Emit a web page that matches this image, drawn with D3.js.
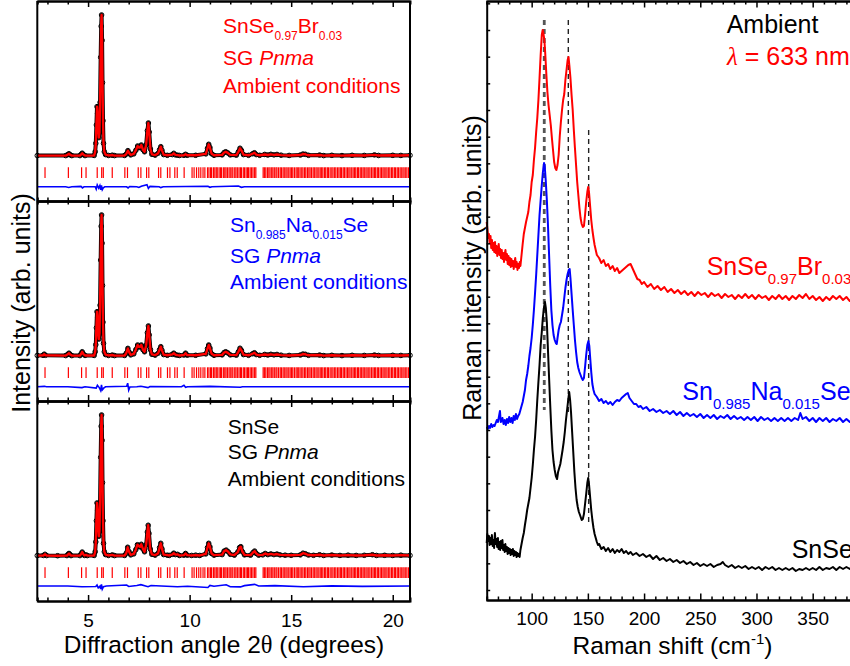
<!DOCTYPE html>
<html>
<head>
<meta charset="utf-8">
<script src="https://cdn.jsdelivr.net/npm/d3@7"></script>
<style>
  body { margin: 0; background: #fff; }
  text { font-family: "Liberation Sans", Arial, sans-serif; }
</style>
</head>
<body>
<svg id="fig" width="850" height="666"></svg>
<script>
// ---------------- XRD data (2theta in degrees, intensity in arb. units, main peak = 100) ----------------
const xrdBr = [[2.5,0.3],[3.9,0.3],[4.0,1],[4.06,1.6],[4.12,0.8],[4.2,0.3],[4.6,0.3],[4.66,1.2],[4.71,2],[4.77,1],[4.85,0.3],[5.3,0.4],[5.35,3],[5.38,9],[5.41,22],[5.44,35],[5.47,30],[5.5,19],[5.53,13],[5.56,17],[5.59,38],[5.62,70],[5.645,92],[5.665,100],[5.69,82],[5.71,52],[5.735,25],[5.76,9],[5.8,3],[5.86,1],[6.0,0.4],[6.19,0.6],[6.3,0.3],[6.8,0.4],[6.88,1.4],[6.96,3.8],[7.03,2],[7.1,0.8],[7.25,1.5],[7.35,4],[7.44,7.1],[7.5,6],[7.56,6],[7.62,7.8],[7.7,4.5],[7.78,3],[7.86,8],[7.92,18],[7.97,23.4],[8.01,17],[8.07,5],[8.14,1.2],[8.3,0.6],[8.45,2],[8.52,4.5],[8.58,6.6],[8.64,4],[8.72,1],[8.9,0.5],[9.15,1],[9.22,1.9],[9.3,0.8],[9.4,0.6],[9.5,0.4],[9.72,0.5],[9.8,1.2],[9.88,0.5],[10.3,0.5],[10.8,1.5],[10.88,5.5],[10.94,8.3],[11.0,6],[11.08,1.6],[11.2,0.5],[11.6,0.8],[11.7,2.5],[11.78,3],[11.88,2.2],[12.0,0.8],[12.3,0.6],[12.4,3],[12.48,5.5],[12.55,4],[12.65,1],[12.9,0.5],[13.1,1.6],[13.19,2.3],[13.28,1],[13.45,0.5],[13.7,1.1],[13.85,0.7],[14.0,1.2],[14.15,0.8],[14.3,1.1],[14.5,0.6],[14.9,0.4],[15.45,0.7],[15.58,1.4],[15.7,1.2],[15.85,0.5],[16.4,0.7],[16.6,0.3],[17.0,0.5],[17.5,0.3],[18.0,0.5],[18.6,0.4],[19.1,0.8],[19.3,0.4],[20.0,0.5],[20.4,0.4],[20.85,0.5]];

const xrdNa = [[2.5,0.4],[2.78,0.5],[2.84,1.3],[2.9,0.5],[3.9,0.3],[4.0,1.2],[4.06,2],[4.12,1],[4.2,0.3],[4.6,0.3],[4.66,1.6],[4.71,3],[4.77,1.4],[4.85,0.4],[5.3,0.4],[5.35,3],[5.38,8],[5.41,20],[5.44,31.4],[5.47,27],[5.5,17],[5.53,12],[5.56,16],[5.59,36],[5.62,68],[5.645,92],[5.665,100],[5.69,80],[5.71,50],[5.735,24],[5.76,9],[5.8,3],[5.86,1],[6.0,0.4],[6.19,0.7],[6.3,0.3],[6.8,0.4],[6.88,2],[6.96,5.4],[7.03,2.6],[7.1,0.8],[7.25,1.5],[7.35,4.5],[7.44,7.8],[7.5,6.5],[7.56,6.5],[7.62,7.8],[7.7,4.5],[7.78,3],[7.86,7.5],[7.92,16.5],[7.97,21.3],[8.01,15],[8.07,4.5],[8.14,1.2],[8.3,0.6],[8.45,2],[8.52,4.5],[8.58,6.6],[8.64,4],[8.72,1],[8.9,0.5],[9.15,1.2],[9.22,2],[9.3,0.9],[9.4,0.6],[9.5,0.4],[9.72,0.7],[9.8,2],[9.88,0.6],[10.3,0.5],[10.8,1.5],[10.88,5.2],[10.94,7.8],[11.0,5.6],[11.08,1.6],[11.2,0.5],[11.6,0.8],[11.7,2.5],[11.78,3],[11.88,2.2],[12.0,0.8],[12.3,0.6],[12.4,3],[12.48,5.5],[12.55,4],[12.65,1],[12.9,0.5],[13.1,1.6],[13.19,2.3],[13.28,1],[13.45,0.5],[13.7,1.1],[13.85,0.7],[14.0,1.2],[14.15,0.8],[14.3,1.1],[14.5,0.6],[14.9,0.4],[15.45,0.7],[15.58,1.4],[15.7,1.2],[15.85,0.5],[16.4,0.7],[16.6,0.3],[17.0,0.5],[17.5,0.3],[18.0,0.5],[18.6,0.4],[19.1,0.7],[19.3,0.4],[20.0,0.5],[20.4,0.4],[20.85,0.5]];

const xrdPure = [[2.5,0.3],[2.8,0.4],[2.88,1.2],[2.96,0.3],[3.5,0.2],[3.96,0.3],[4.02,1.2],[4.06,1.8],[4.1,1.2],[4.16,0.3],[4.6,0.3],[4.66,1.5],[4.71,2.8],[4.76,1.5],[4.82,0.4],[4.9,0.8],[4.96,0.3],[5.3,0.4],[5.35,3],[5.38,10],[5.41,25],[5.44,37.6],[5.47,32],[5.5,20],[5.53,14],[5.56,18],[5.59,38],[5.62,70],[5.645,92],[5.665,100],[5.69,82],[5.71,52],[5.735,25],[5.76,9],[5.8,3],[5.86,1],[6.0,0.4],[6.19,0.8],[6.3,0.3],[6.8,0.4],[6.88,2],[6.95,6.2],[7.02,3],[7.1,0.8],[7.25,1.5],[7.35,4.5],[7.43,8],[7.5,7],[7.56,6.5],[7.62,8.3],[7.7,5],[7.78,3],[7.86,8],[7.92,17],[7.96,21.8],[8.0,16],[8.06,5],[8.14,1.2],[8.3,0.6],[8.45,2],[8.52,6],[8.58,9],[8.64,5],[8.72,1],[8.9,0.6],[9.0,0.4],[9.16,1.2],[9.22,2],[9.3,1],[9.4,1.2],[9.5,0.4],[9.72,0.6],[9.8,1.8],[9.88,0.6],[10.1,0.4],[10.3,0.6],[10.5,0.4],[10.8,1.5],[10.88,6],[10.94,9],[11.0,6.5],[11.08,1.8],[11.2,0.6],[11.6,1],[11.7,3.5],[11.8,4.2],[11.9,3],[12.0,1.2],[12.2,0.6],[12.38,3],[12.46,6],[12.52,6.6],[12.6,3],[12.7,0.8],[13.0,0.6],[13.12,2.5],[13.2,3.5],[13.28,1.8],[13.4,0.6],[13.6,0.8],[13.72,1.8],[13.85,1],[14.0,1.5],[14.15,1],[14.3,1.4],[14.45,0.8],[14.7,0.6],[15.0,0.5],[15.45,0.8],[15.58,2],[15.7,1.6],[15.85,0.7],[16.1,0.5],[16.4,0.9],[16.6,0.4],[17.0,0.7],[17.4,0.4],[17.8,0.6],[18.2,0.4],[18.6,0.5],[19.0,0.9],[19.2,0.4],[19.6,0.5],[20.0,0.4],[20.4,0.6],[20.85,0.4]];

// difference curves (obs - calc), shifted below the patterns
const diffBr = [[2.5,-21.8],[3.9,-21.8],[4.05,-22.3],[4.2,-21.8],[4.65,-21.5],[4.72,-22.6],[4.8,-21.8],[5.35,-21.8],[5.4,-23.5],[5.45,-20.5],[5.52,-22.8],[5.58,-21],[5.62,-24],[5.66,-20.8],[5.7,-23.8],[5.75,-22.5],[5.82,-21.8],[6.9,-21.8],[6.97,-22.6],[7.05,-21.6],[7.4,-21.8],[7.5,-22.3],[7.62,-21.4],[7.9,-20.4],[7.97,-23],[8.05,-21.5],[8.5,-21.8],[8.58,-22.4],[8.7,-21.8],[10.9,-21.4],[11.0,-22.2],[11.1,-21.8],[12.4,-21.3],[12.55,-22.2],[12.7,-21.8],[20.85,-21.8]];
const diffNa = [[2.5,-21.8],[2.85,-21.5],[2.95,-21.8],[4.0,-21.8],[4.7,-22.4],[4.85,-21.8],[5.4,-22.8],[5.46,-20.8],[5.55,-22.4],[5.62,-24.5],[5.66,-20.5],[5.7,-24],[5.78,-22.6],[5.86,-21.8],[6.9,-21.5],[6.95,-19.3],[7.0,-24.2],[7.06,-22],[7.4,-21.8],[7.6,-21.4],[7.95,-22.4],[8.05,-21.6],[9.6,-21.8],[9.72,-20.8],[9.8,-22.2],[9.9,-21.8],[11.0,-21.5],[12.5,-22.2],[12.6,-21.8],[20.85,-21.8]];
const diffPure = [[2.5,-21.3],[4.0,-21.3],[4.7,-21.8],[5.38,-21.6],[5.44,-20.6],[5.5,-22.6],[5.58,-21.4],[5.62,-23.4],[5.66,-20.2],[5.7,-23.5],[5.76,-21.8],[5.9,-21.3],[6.9,-20.6],[7.0,-21.6],[7.4,-20.9],[7.6,-20.3],[7.95,-21.8],[8.1,-20.9],[8.6,-21.3],[9.4,-21.8],[9.9,-21.4],[10.9,-22.3],[11.0,-20.8],[11.2,-21.4],[11.8,-20.4],[12.0,-21.8],[12.5,-21.9],[12.7,-21],[13.2,-20.1],[13.4,-21.3],[14.2,-21],[15.6,-21.8],[17.0,-21.2],[18.5,-21.5],[20.85,-21.3]];

// Bragg reflection positions (Pnma), 2theta
const braggPos = [2.88,4.03,4.68,4.90,5.45,5.67,5.75,6.19,6.81,6.94,7.47,7.60,7.88,7.99,8.47,8.58,8.91,9.03,9.27,9.39,9.73,10.12,10.22,10.34,10.45,10.55,10.66,10.75,
  10.88,10.95,11.03,11.08,11.17,11.24,11.31,11.36,11.45,11.52,11.57,11.66,11.73,11.79,11.86,11.94,12.0,12.08,12.13,12.22,12.28,12.35,12.43,12.5,12.55,12.64,12.7,12.78,12.85,12.9,12.98,13.05,13.12,13.2,13.26,
  13.62,13.68,13.75,13.83,13.9,13.96,14.04,14.1,14.17,14.25,14.3,14.38,14.46,14.52,14.6,14.66,14.74,14.8,14.88,14.95,15.02,15.08,15.16,15.24,15.3,15.37,15.44,15.52,15.58,15.66,15.72,15.8,15.87,15.93,16.0,16.08,16.14,16.22,16.28,16.36,16.43,16.5,16.56,16.64,16.7,16.78,16.84,16.92,17.0,17.06,17.14,17.2,17.28,17.35,17.42,17.48,17.56,17.62,17.7,17.77,17.84,17.9,17.98,18.05,18.12,18.18,18.26,18.32,18.4,18.47,18.54,18.6,18.68,18.74,18.82,18.88,18.96,19.03,19.1,19.16,19.24,19.3,19.38,19.45,19.52,19.58,19.66,19.72,19.8,19.86,19.94,20.0,20.08,20.14,20.22,20.28,20.36,20.42,20.5,20.56,20.64,20.7,20.78];

const xrdMajorTicks = [5, 10, 15, 20];
const xrdMinorTicks = [3, 4, 6, 7, 8, 9, 11, 12, 13, 14, 16, 17, 18, 19];

// ---------------- Raman data (shift in cm-1, intensity in arb. units, curves offset) ----------------
const ramanBr = [[60,378],[60.7,370],[61.4,362],[62,366],[62.7,357],[63.4,364],[64,352],[64.7,360],[65.4,350],[66,357],[66.7,348],[67.4,358],[68,347],[68.7,354],[69.4,344],[70,350],[70.7,356],[71.4,345],[72,351],[72.7,342],[73.4,350],[74,341],[74.7,347],[75.4,338],[76,345],[76.7,350],[77.4,340],[78,346],[78.7,336],[79.4,344],[80,335],[80.7,342],[81.4,333],[82,341],[82.7,334],[83.4,339],[84,331],[84.7,337],[85.4,342],[86,333],[86.7,338],[87.4,330],[88,336],[88.7,332],[89.4,338],[90,334],[91,345],[92,356],[93,366],[94,372],[95,378],[96,383],[97,388],[98,398],[99,405],[100,418],[101,425],[102,440],[103,452],[104,468],[105,482],[106,500],[107,522],[108,545],[109,565],[109.8,570],[110.5,566],[111.3,560],[112,548],[113,527],[114,508],[115,495],[116,485],[117,475],[118,462],[119,450],[120,438],[121,432],[122,430],[123,435],[124,445],[125,464],[126,478],[127,490],[128,500],[129,506],[130,520],[131,530],[132,540],[132.8,543],[133.5,535],[134.5,522],[135.5,505],[136.5,490],[137.5,470],[138.5,452],[139.5,435],[140.5,418],[141.5,405],[142.5,392],[143.5,382],[144.5,376],[145.5,373],[146.5,374],[147.5,385],[148.5,398],[149.5,408],[150.3,413],[151,408],[152,394],[153,380],[154,370],[155,362],[156,355],[157,350],[158,345],[160,342],[162,337],[164,340],[166,334],[168,336],[170,331],[172,334],[174,329],[176,332],[178,327],[180,329],[182,331],[184,333],[186,335],[188,336],[190,331],[192,326],[194,321],[196,320],[198,316],[200,318],[203,313],[206,316],[209,311],[212,314],[215,310],[218,313],[221,308],[224,311],[227,307],[230,310],[233,306],[236,309],[239,305],[242,308],[245,304],[248,308],[251,305],[254,307],[257,303],[260,307],[263,304],[266,306],[269,302],[272,306],[275,303],[278,305],[281,301],[284,305],[287,302],[290,306],[293,302],[296,305],[299,301],[302,305],[305,302],[308,304],[311,300],[314,304],[317,301],[320,305],[323,301],[326,304],[329,300],[332,304],[335,301],[338,305],[341,302],[344,306],[347,301],[350,304],[353,300],[356,303],[359,299],[362,303],[365,300],[368,304],[371,301],[374,304],[377,300],[380,303],[383,299],[386,303],[389,300],[392,303],[395,299],[398,302],[400,300]];

const ramanNa = [[60,173],[61,171],[62,174],[63,172],[64,176],[65,173],[66,175],[67,174],[68,177],[69,180],[70,178],[71,184],[71.8,189],[72.5,178],[74,182],[75,176],[76,180],[77,175],[78,181],[79,177],[80,183],[81,178],[82,182],[83,177],[84,184],[85,180],[86,186],[87,181],[88,184],[89,186],[90,190],[91,194],[92,198],[93,204],[94,210],[95,220],[96,226],[97,234],[98,244],[99,252],[100,262],[101,275],[102,290],[103,307],[104,325],[105,345],[106,365],[107,385],[108,400],[109,415],[110,428],[111,437],[111.6,434],[112.5,420],[113.5,400],[114.5,375],[115.5,345],[116.5,315],[117.5,290],[118.5,275],[119.5,265],[120.5,260],[121.5,257],[122.3,256],[123,262],[124,270],[125,275],[126,278],[127,285],[128,292],[129,302],[130,312],[131,320],[132,326],[133,330],[133.8,331],[134.5,322],[135.5,306],[136.5,290],[137.5,275],[138.5,260],[139.5,248],[140.5,238],[141.5,232],[142.5,228],[143.5,225],[144.5,222],[145.5,220],[146.5,222],[147.5,233],[148.5,245],[149.5,255],[150.5,259],[151.3,254],[152,243],[153,228],[154,216],[155,210],[156,206],[158,203],[160,199],[162,201],[164,197],[166,199],[168,196],[170,198],[172,195],[174,198],[176,200],[178,199],[180,202],[182,204],[184,206],[185.5,207],[187,202],[189,199],[191,196],[193,196],[195,193],[197,194],[199,191],[202,193],[205,189],[208,191],[211,188],[214,190],[217,187],[220,189],[223,186],[226,189],[229,185],[232,188],[235,184],[238,187],[241,184],[244,186],[247,183],[250,186],[253,182],[256,185],[259,182],[262,185],[265,181],[268,184],[271,182],[274,185],[277,181],[280,184],[283,181],[286,183],[289,180],[292,183],[295,180],[298,183],[301,179],[304,183],[307,180],[310,182],[313,179],[316,182],[319,179],[322,182],[325,179],[328,182],[331,179],[334,182],[337,180],[339,187],[341,181],[344,183],[347,179],[350,182],[353,178],[356,182],[359,179],[362,182],[365,178],[368,181],[371,179],[374,182],[377,178],[380,181],[383,178],[386,181],[389,177],[392,181],[395,178],[398,181],[400,179]];

const ramanPure = [[60,57],[60.6,66],[61.2,59],[62,64],[62.6,55],[63.3,62],[64,56],[64.6,65],[65.3,54],[66,60],[66.6,52],[67.3,67],[68,56],[68.6,61],[69.3,53],[70,62],[70.6,51],[71.3,58],[72,50],[72.6,59],[73.3,52],[74,60],[74.6,50],[75.3,55],[76,48],[76.6,56],[77.3,49],[78,53],[78.6,46],[79.3,52],[80,47],[80.6,51],[81.3,45],[82,50],[82.6,46],[83.3,51],[84,44],[84.6,49],[85.3,45],[86,48],[86.6,43],[87.3,47],[88,44],[88.6,46],[89.3,43],[90,50],[91,56],[92,62],[93,67],[94,75],[95,82],[96,90],[97,96],[98,102],[99,112],[100,122],[101,135],[102,150],[103,163],[104,180],[105,200],[106,218],[107,235],[108,255],[109,268],[110,283],[111,293],[111.8,298],[112.6,292],[113.5,278],[114.5,250],[115.5,222],[116.5,195],[117.5,170],[118.5,150],[119.5,138],[120.5,130],[121.5,124],[122.6,121],[123.5,128],[124.5,132],[125.5,136],[126.5,143],[127.5,150],[128.5,158],[129.5,168],[130.5,180],[131.5,190],[132.5,200],[133.4,208],[134.2,200],[135,188],[136,168],[137,148],[138,128],[139,112],[140,100],[141,93],[142,88],[143,85],[144.5,80],[145.5,81],[146.5,86],[147.5,96],[148.5,106],[149.5,117],[150.3,122],[151,116],[152,103],[153,90],[154,80],[155,72],[156,66],[157,62],[158,58],[159,55],[160,56],[162,51],[164,53],[166,49],[168,52],[170,48],[172,51],[174,47],[176,50],[178,48],[180,51],[182,47],[184,49],[186,46],[188,48],[190,45],[193,47],[196,44],[199,46],[202,43],[205,45],[208,41],[211,44],[214,40],[217,42],[220,39],[223,41],[226,38],[229,40],[232,37],[235,39],[238,36],[241,38],[244,35],[247,37],[250,34],[253,36],[256,34],[259,36],[262,33],[265,35],[268,36],[270,38],[272,35],[275,33],[278,35],[281,32],[284,34],[287,32],[290,34],[293,31],[296,33],[299,31],[302,33],[305,30],[308,33],[311,31],[314,33],[317,30],[320,32],[323,30],[326,32],[329,30],[332,32],[335,29],[338,31],[341,30],[344,32],[347,30],[350,32],[353,30],[356,33],[359,30],[362,32],[365,31],[368,33],[371,30],[374,33],[377,31],[380,33],[383,31],[386,34],[389,32],[392,34],[395,32],[398,34],[400,33]];

// Raman mode guide lines: position, top and bottom intensity
const modePos = [111.2, 132.6, 150.7];
const modeTop = [580, 580, 470];
const modeBottom = [190, 185, 78];

const ramanMajorTicks = [100, 150, 200, 250, 300, 350, 400];
const ramanMinorTicks = [70, 80, 90, 110, 120, 130, 140, 160, 170, 180, 190, 210, 220, 230, 240, 260, 270, 280, 290, 310, 320, 330, 340, 360, 370, 380, 390];
const ramanYTicks = d3.range(10, 599, 80 / 3);

// ---------------- drawing ----------------
let svg = d3.select("svg#fig");
const FONT = '"Liberation Sans", Arial, sans-serif';

function formula(sel, parts, fs, subFs, shift) {
  // parts: [text, isSubscript]
  let prevSub = false;
  parts.forEach(p => {
    let t = sel.append("tspan").text(p[0]);
    if (p[1]) {
      t.attr("font-size", subFs).attr("dy", prevSub ? 0 : shift);
    } else {
      t.attr("font-size", fs).attr("dy", prevSub ? -shift : 0);
    }
    prevSub = p[1];
  });
}

// ===== left panel: XRD =====
const xL = d3.scaleLinear().domain([2.5, 20.85]).range([37.3, 410]);
const panelTops = [1, 201, 401];
const panelH = 200;

const xrdPanels = [
  { profile: xrdBr, diff: diffBr, color: "red", x: 223, base: [33.3, 65, 92.5],
    name: [["SnSe", 0], ["0.97", 1], ["Br", 0], ["0.03", 1]] },
  { profile: xrdNa, diff: diffNa, color: "blue", x: 230, base: [231.7, 262.7, 288.5],
    name: [["Sn", 0], ["0.985", 1], ["Na", 0], ["0.015", 1], ["Se", 0]] },
  { profile: xrdPure, diff: diffPure, color: "black", x: 227.7, base: [434, 459.3, 485.7],
    name: [["SnSe", 0]] }
];

xrdPanels.forEach((p, i) => {
  let top = panelTops[i];
  let yI = d3.scaleLinear().domain([-31.9, 109.9]).range([top + panelH, top]);
  let line = d3.line().x(d => xL(d[0])).y(d => yI(d[1]));
  let g = svg.append("g");

  // Bragg positions
  g.selectAll("line.bragg").data(braggPos).join("line")
    .attr("class", "bragg")
    .attr("x1", d => xL(d)).attr("x2", d => xL(d))
    .attr("y1", yI(-8)).attr("y2", yI(-15.6))
    .attr("stroke", "red").attr("stroke-width", 1.2);

  // difference
  g.append("path").datum(p.diff)
    .attr("d", line).attr("fill", "none")
    .attr("stroke", "blue").attr("stroke-width", 1.6);

  // observed (open circles, dense)
  g.append("path").datum(p.profile)
    .attr("d", line).attr("fill", "none")
    .attr("stroke", "black").attr("stroke-width", 4)
    .attr("stroke-linejoin", "round");
  g.selectAll("circle").data(p.profile).join("circle")
    .attr("cx", d => xL(d[0])).attr("cy", d => yI(d[1]))
    .attr("r", 2.3).attr("fill", "none")
    .attr("stroke", "black").attr("stroke-width", 1);

  // calculated
  g.append("path").datum(p.profile)
    .attr("d", line).attr("fill", "none")
    .attr("stroke", "red").attr("stroke-width", 2.4)
    .attr("stroke-linejoin", "round");

  // axes top and bottom, ticks pointing in
  let bottomMajor = d3.axisBottom(xL).tickValues(xrdMajorTicks).tickSize(-6).tickSizeOuter(0).tickPadding(13)
    .tickFormat(i == 2 ? d3.format("d") : "");
  let gb = svg.append("g").attr("transform", "translate(0," + (top + panelH) + ")").call(bottomMajor);
  gb.append("g").call(d3.axisBottom(xL).tickValues(xrdMinorTicks).tickSize(-3.5).tickFormat(""));
  let gt = svg.append("g").attr("transform", "translate(0," + top + ")")
    .call(d3.axisTop(xL).tickValues(xrdMajorTicks).tickSize(-6).tickSizeOuter(0).tickFormat(""));
  gt.append("g").call(d3.axisTop(xL).tickValues(xrdMinorTicks).tickSize(-3.5).tickFormat(""));
  [gb, gt].forEach(a => {
    a.attr("font-size", 19).attr("font-family", FONT);
    a.selectAll("path.domain").attr("stroke-width", 2);
    a.selectAll("line").attr("stroke-width", 1.5);
    a.selectAll("text").attr("fill", "black");
  });

  // legend
  let t1 = svg.append("text").attr("x", p.x).attr("y", p.base[0]).attr("fill", p.color).attr("font-size", 21);
  formula(t1, p.name, 21, 12, 7);
  let t2 = svg.append("text").attr("x", p.x).attr("y", p.base[1]).attr("fill", p.color).attr("font-size", 21);
  t2.append("tspan").text("SG ");
  t2.append("tspan").attr("font-style", "italic").text("Pnma");
  svg.append("text").attr("x", p.x).attr("y", p.base[2]).attr("fill", p.color).attr("font-size", 21)
    .text("Ambient conditions");
});

// left frame sides
svg.append("line").attr("x1", xL.range()[0]).attr("x2", xL.range()[0]).attr("y1", 1).attr("y2", 601)
  .attr("stroke", "black").attr("stroke-width", 2);
svg.append("line").attr("x1", xL.range()[1]).attr("x2", xL.range()[1]).attr("y1", 1).attr("y2", 601)
  .attr("stroke", "black").attr("stroke-width", 2);

// axis titles
let xt = svg.append("text").attr("x", 224).attr("y", 653).attr("text-anchor", "middle").attr("font-size", 24.5);
xt.append("tspan").text("Diffraction angle 2");
xt.append("tspan").attr("font-family", '"Liberation Serif", serif').text("θ");
xt.append("tspan").text(" (degrees)");
svg.append("text").attr("transform", "translate(30,303) rotate(-90)").attr("text-anchor", "middle")
  .attr("font-size", 25).text("Intensity (arb. units)");

// ===== right panel: Raman =====
const xR = d3.scaleLinear().domain([60, 400]).range([486.7, 868.9]);
const yR = d3.scaleLinear().domain([0, 599]).range([600, 1]);
const rLine = d3.line().x(d => xR(d[0])).y(d => yR(d[1]));

let rg = svg.append("g");
// guide lines
rg.selectAll("line.mode").data(modePos).join("line")
  .attr("class", "mode")
  .attr("x1", d => xR(d)).attr("x2", d => xR(d))
  .attr("y1", (d, i) => yR(modeTop[i])).attr("y2", (d, i) => yR(modeBottom[i]))
  .attr("stroke", (d, i) => i == 0 ? "#555" : "#222")
  .attr("stroke-width", (d, i) => i == 0 ? 2.8 : 1.4)
  .attr("stroke-dasharray", "5,4");

[[ramanPure, "black"], [ramanNa, "blue"], [ramanBr, "red"]].forEach(s => {
  rg.append("path").datum(s[0]).attr("d", rLine)
    .attr("fill", "none").attr("stroke", s[1]).attr("stroke-width", 2)
    .attr("stroke-linejoin", "round");
});

let rb = svg.append("g").attr("transform", "translate(0,600)")
  .call(d3.axisBottom(xR).tickValues(ramanMajorTicks).tickSize(-6.5).tickSizeOuter(0).tickPadding(11.5).tickFormat(d3.format("d")));
rb.append("g").call(d3.axisBottom(xR).tickValues(ramanMinorTicks).tickSize(-3.5).tickFormat(""));
let rt = svg.append("g").attr("transform", "translate(0,1)")
  .call(d3.axisTop(xR).tickValues(ramanMajorTicks).tickSize(-6.5).tickSizeOuter(0).tickFormat(""));
rt.append("g").call(d3.axisTop(xR).tickValues(ramanMinorTicks).tickSize(-3.5).tickFormat(""));
let rl = svg.append("g").attr("transform", "translate(486.7,0)")
  .call(d3.axisLeft(yR).tickValues(ramanYTicks).tickSize(-3.5).tickSizeOuter(0).tickFormat(""));
[rb, rt, rl].forEach(a => {
  a.attr("font-size", 19).attr("font-family", FONT);
  a.selectAll("path.domain").attr("stroke-width", 2);
  a.selectAll("line").attr("stroke-width", 1.5);
  a.selectAll("text").attr("fill", "black");
});

// Raman labels
svg.append("text").attr("x", 726.7).attr("y", 33.3).attr("font-size", 25).text("Ambient");
let lam = svg.append("text").attr("x", 727).attr("y", 65).attr("font-size", 25).attr("fill", "red");
lam.append("tspan").attr("font-family", '"Liberation Serif", serif').attr("font-style", "italic").text("λ");
lam.append("tspan").text(" = 633 nm");
let lb = svg.append("text").attr("x", 706.7).attr("y", 275).attr("fill", "red").attr("font-size", 25);
formula(lb, [["SnSe", 0], ["0.97", 1], ["Br", 0], ["0.03", 1]], 25, 15, 9);
let ln = svg.append("text").attr("x", 682.3).attr("y", 400).attr("fill", "blue").attr("font-size", 25);
formula(ln, [["Sn", 0], ["0.985", 1], ["Na", 0], ["0.015", 1], ["Se", 0]], 25, 15, 9);
svg.append("text").attr("x", 791.7).attr("y", 558).attr("font-size", 25).text("SnSe");

let rx = svg.append("text").attr("x", 672.5).attr("y", 654).attr("text-anchor", "middle").attr("font-size", 24.5);
rx.append("tspan").text("Raman shift (cm");
rx.append("tspan").attr("font-size", 15).attr("dy", -10).text("-1");
rx.append("tspan").attr("dy", 10).text(")");
svg.append("text").attr("transform", "translate(481,268) rotate(-90)").attr("text-anchor", "middle")
  .attr("font-size", 25).text("Raman intensity (arb. units)");
</script>
</body>
</html>
